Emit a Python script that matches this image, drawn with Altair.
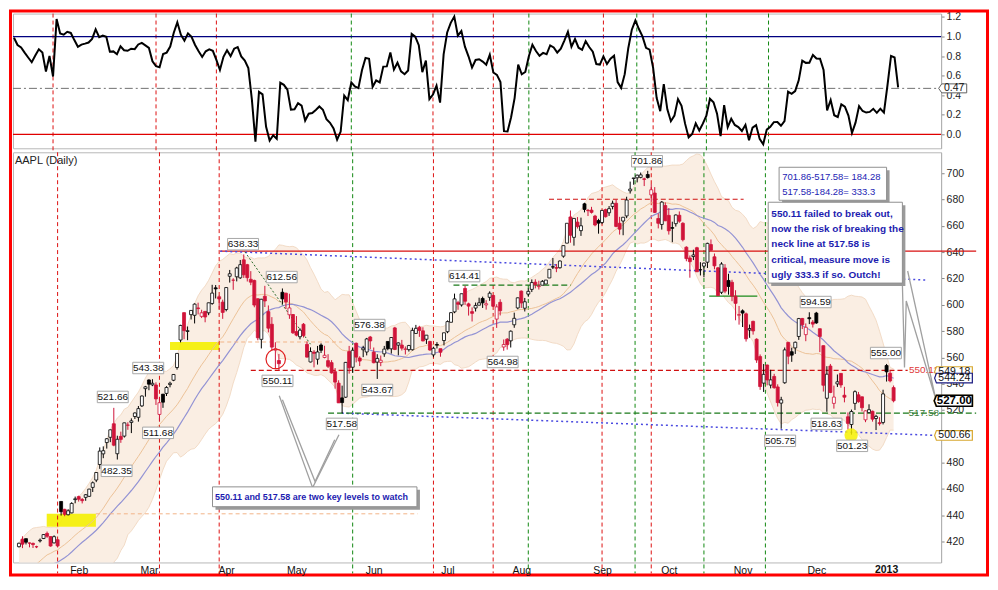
import altair as alt
import pandas as pd
import numpy as np

FONT = "Liberation Sans"
RED_C = "#d0143a"

# closes before the first visible bar (only feed the 20/30-day averages and bands)
history_close = [363.7, 360.3, 372.7, 369.8, 378.8, 384.4, 386.2, 389.5, 387.4, 385.6,
                 387.1, 390.1, 388.3, 385.3, 376.8, 375.5, 377.6, 378.8, 392.4, 392.9,
                 395.0, 399.8, 402.9, 399.0, 401.5, 401.4, 407.5, 409.7, 414.3]

open_ = [
    416.0, 421.7, 422.1, 418.8, 418.5, 415.9, 420.4, 422.2, 426.1, 423.7, 418.9, 421.3, 450.4, 444.4, 440.3, 441.7, 451.8,
    454.1, 451.9, 453.5, 454.3, 461.1, 466.7, 478.5, 486.6, 495.2, 499.2, 509.5, 486.7, 499.9, 500.1, 508.5, 510.5, 515.0, 514.4, 523.1, 536.2,
    542.8, 539.1, 539.0, 516.6, 532.0, 532.6, 539.3, 542.6, 552.3, 573.2, 594.0, 579.7, 592.5, 592.0, 597.6, 591.2, 595.0, 593.9, 601.0, 612.9, 606.1, 602.0,
    596.4, 621.7, 618.7, 621.3, 620.5, 634.2, 630.5, 619.4, 618.5, 604.6, 573.7, 606.5, 594.8, 585.2, 565.5, 557.6, 609.5, 608.8, 592.4, 592.6,
    579.6, 575.7, 585.2, 569.9, 556.5, 564.0, 558.6, 569.4, 559.9, 557.5, 556.0, 549.1, 540.4, 529.2, 529.7, 564.4, 552.5, 570.7, 559.5, 565.8, 564.1, 575.5,
    564.0, 556.4, 556.2, 562.7, 572.1, 566.5, 582.4, 569.3, 569.4, 566.1, 565.9, 565.8, 578.2, 582.9, 580.2, 573.8, 572.1, 561.9, 569.8, 566.6, 572.8,
    579.5, 586.7, 594.6, 601.6, 599.9, 612.4, 600.7, 594.8, 597.5, 599.7, 604.8, 599.9, 605.7, 607.1, 589.1, 601.9, 567.9, 573.8, 572.6, 584.8, 597.6,
    610.4, 597.4, 608.1, 611.7, 617.2, 613.8, 614.9, 615.8, 620.4, 628.9, 628.3, 628.2, 637.0, 646.9, 666.8, 651.3, 662.9, 656.4, 676.8, 671.8, 672.0, 667.5, 664.1,
    662.6, 672.4, 670.0, 674.8, 677.2, 662.0, 663.7, 667.6, 686.7, 696.0, 696.6, 696.9, 695.8, 699.1, 683.6, 685.0, 665.6, 661.1, 675.5,
    668.0, 658.7, 661.7, 668.1, 662.0, 643.8, 635.6, 636.7, 643.4, 626.6, 629.4, 632.4, 645.8, 636.5, 628.1, 609.5, 628.0, 618.5, 617.1, 606.5, 592.1,
    595.4, 593.1, 580.8, 587.4, 573.8, 560.6, 540.4, 554.2, 538.9, 545.5, 537.5, 525.2, 540.7, 571.4, 564.3, 567.2, 575.9, 589.6, 577.3, 590.2, 586.8,
    593.7, 581.8, 568.9, 528.9, 553.4, 525.0, 539.8, 547.8, 531.2, 514.8, 508.9, 525.0, 531.5, 530.0, 512.5, 518.0, 519.0, 513.5, 510.3, 510.5,
    553.8, 547.9, 537.0,
]
high = [
    419.0, 423.9, 422.2, 419.1, 419.1, 416.7, 422.2, 425.6, 427.5, 423.7, 424.6, 421.3, 450.4, 444.8, 444.5, 449.8, 454.1,
    454.8, 453.0, 456.0, 460.0, 465.6, 472.7, 491.5, 492.3, 498.6, 505.0, 521.6, 500.4, 503.5, 510.3, 510.6, 513.6, 518.1, 523.0, 531.0, 538.3,
    543.3, 543.4, 541.0, 529.2, 532.2, 538.1, 541.5, 547.2, 563.1, 584.8, 594.2, 583.5, 595.8, 601.1, 601.6, 596.2, 595.1, 601.6, 615.2, 615.0, 607.1, 603.9,
    613.2, 626.5, 620.2, 628.9, 634.1, 638.3, 631.1, 625.6, 619.1, 604.8, 604.5, 614.4, 599.5, 590.6, 571.5, 562.6, 612.4, 609.2, 608.4, 593.0,
    591.4, 582.1, 586.1, 572.1, 567.6, 565.5, 568.7, 570.7, 568.8, 562.4, 557.9, 551.9, 542.6, 538.5, 556.5, 568.7, 567.6, 571.3, 560.8, 568.8, 574.8, 576.3,
    567.5, 562.4, 561.4, 568.7, 572.1, 575.4, 583.2, 571.4, 573.3, 568.3, 569.5, 582.6, 584.7, 584.0, 582.9, 577.0, 572.6, 568.1, 571.6, 566.6, 578.7,
    588.1, 594.5, 608.5, 603.0, 608.4, 614.4, 601.6, 598.0, 601.7, 605.4, 606.2, 603.5, 610.2, 607.4, 600.4, 604.2, 573.6, 574.7, 580.5, 594.0, 605.5,
    610.9, 605.2, 612.4, 619.3, 619.4, 618.3, 618.8, 618.8, 627.0, 635.6, 631.0, 633.7, 645.1, 662.0, 671.7, 665.8, 666.7, 666.3, 677.6, 672.9, 674.5, 668.4, 665.4,
    671.9, 673.1, 675.1, 679.2, 680.0, 666.9, 666.7, 682.2, 693.7, 696.5, 699.0, 700.6, 696.7, 701.9, 691.8, 689.5, 669.5, 678.9, 677.9,
    673.5, 663.2, 668.7, 671.0, 662.8, 644.5, 637.5, 641.9, 644.1, 632.4, 632.1, 647.2, 649.7, 639.0, 628.8, 632.4, 630.9, 623.6, 619.0, 611.1, 599.1,
    596.5, 594.1, 585.0, 587.9, 574.5, 562.2, 554.9, 554.5, 550.5, 547.5, 539.5, 530.0, 567.5, 571.8, 567.4, 572.0, 590.0, 590.0, 585.8, 594.3, 588.4,
    594.6, 581.8, 569.0, 553.3, 555.0, 538.5, 547.0, 547.9, 537.6, 518.1, 520.3, 534.9, 533.7, 530.2, 519.7, 524.3, 519.5, 516.3, 514.5, 535.4,
    555.0, 549.7, 538.6,
]
low = [
    415.4, 414.9, 417.7, 415.5, 415.0, 414.9, 419.2, 421.8, 422.7, 416.0, 418.5, 415.8, 439.7, 439.2, 439.8, 441.4, 449.0,
    450.3, 448.9, 450.9, 453.8, 457.6, 465.1, 475.2, 483.3, 490.6, 495.5, 492.4, 482.3, 495.0, 499.0, 504.9, 502.4, 513.1, 511.1, 522.3, 530.1,
    535.0, 538.1, 523.8, 511.7, 521.6, 530.6, 537.2, 541.9, 550.7, 571.4, 573.8, 573.1, 588.8, 585.8, 592.7, 589.9, 586.7, 592.1, 600.0, 604.8, 596.6, 589.3,
    595.0, 616.9, 611.4, 617.8, 619.7, 620.4, 617.7, 614.9, 598.1, 573.0, 566.8, 598.3, 579.0, 564.9, 551.6, 550.1, 600.5, 596.7, 589.3, 577.8,
    576.0, 573.7, 575.1, 559.9, 556.2, 552.4, 554.5, 563.3, 559.3, 551.9, 547.6, 536.2, 525.4, 517.6, 529.2, 547.6, 548.3, 556.2, 553.4, 560.2, 561.5, 566.3,
    555.5, 543.6, 553.3, 560.4, 565.4, 562.9, 565.5, 561.6, 565.2, 562.2, 564.4, 565.2, 577.9, 575.6, 572.2, 570.2, 565.0, 560.1, 566.8, 560.5, 569.1,
    578.4, 586.7, 593.6, 596.2, 598.6, 599.9, 591.8, 587.3, 594.9, 599.6, 597.6, 596.3, 603.0, 598.3, 582.4, 591.9, 565.0, 565.9, 567.5, 582.5, 596.6,
    597.6, 594.9, 606.1, 609.7, 612.5, 611.6, 614.9, 615.8, 620.3, 627.2, 624.8, 627.5, 635.8, 646.8, 647.2, 645.0, 658.0, 652.4, 670.3, 667.5, 669.4, 659.7, 654.1,
    661.3, 666.4, 667.6, 672.6, 659.0, 653.4, 652.9, 665.9, 684.6, 691.3, 693.1, 696.2, 690.3, 696.0, 678.8, 669.8, 658.1, 657.2, 663.6,
    653.4, 647.6, 659.5, 662.4, 648.2, 633.1, 620.6, 634.0, 625.1, 622.3, 620.9, 628.0, 640.9, 627.0, 606.7, 608.1, 608.8, 607.7, 602.7, 588.2, 584.9,
    583.1, 572.0, 574.9, 577.3, 555.8, 535.3, 533.7, 538.7, 536.4, 536.2, 522.6, 505.75, 539.9, 554.8, 556.6, 562.6, 573.3, 581.5, 572.3, 585.3, 582.7,
    585.5, 564.0, 534.0, 518.6, 532.8, 521.0, 537.5, 536.9, 525.8, 505.1, 501.2, 520.0, 525.5, 518.9, 510.7, 517.9, 511.1, 504.7, 508.1, 509.0,
    541.6, 541.0, 525.8,
]
close = [
    418.6, 417.9, 419.4, 418.7, 417.6, 416.0, 420.9, 425.2, 423.9, 416.5, 423.6, 416.6, 442.6, 440.6, 443.3, 448.9, 452.4,
    452.1, 451.0, 455.5, 459.8, 464.6, 472.4, 488.7, 489.0, 498.1, 504.9, 493.2, 497.7, 497.6, 510.2, 508.4, 511.7, 517.7, 521.0, 530.6, 537.6,
    539.6, 540.3, 528.4, 525.5, 525.9, 537.1, 540.3, 547.0, 563.0, 584.3, 580.3, 580.3, 595.7, 600.5, 597.1, 593.9, 590.7, 601.5, 608.9, 612.1, 604.4, 594.2,
    613.1, 623.6, 618.7, 628.0, 630.5, 622.8, 620.6, 617.2, 599.8, 574.9, 604.2, 602.9, 582.2, 567.8, 566.6, 555.2, 604.5, 602.2, 597.6, 578.7,
    576.9, 580.7, 576.6, 560.2, 564.4, 563.1, 564.1, 565.4, 561.6, 553.2, 548.2, 541.2, 525.4, 525.6, 556.2, 552.0, 565.4, 560.2, 557.2, 567.1, 574.0, 572.5,
    555.9, 559.2, 557.8, 566.3, 566.6, 575.1, 566.0, 571.0, 567.0, 566.4, 569.0, 580.5, 582.1, 580.5, 572.5, 576.9, 565.6, 566.9, 569.3, 563.9, 578.7,
    587.2, 594.0, 604.5, 600.4, 608.4, 602.7, 599.0, 593.5, 599.5, 601.5, 601.5, 600.8, 608.8, 598.9, 598.4, 595.5, 569.8, 569.7, 579.9, 589.7, 605.3,
    601.4, 602.3, 610.2, 616.9, 615.3, 614.3, 617.8, 618.8, 627.0, 628.7, 627.8, 633.3, 645.0, 662.0, 652.9, 665.7, 659.5, 660.1, 672.5, 671.6, 670.3, 660.7, 662.1,
    671.8, 667.0, 673.1, 677.2, 659.6, 657.5, 666.6, 679.7, 688.0, 696.5, 698.6, 698.8, 695.4, 696.8, 687.5, 670.3, 662.0, 678.1, 663.9,
    656.3, 658.2, 668.3, 663.6, 649.5, 635.1, 632.8, 637.9, 625.1, 626.7, 631.7, 646.7, 641.5, 629.6, 606.9, 631.0, 610.4, 613.9, 606.6, 601.1, 592.5,
    593.7, 574.1, 581.9, 580.1, 558.0, 537.8, 547.1, 542.8, 542.9, 536.9, 525.6, 527.7, 565.7, 560.9, 561.7, 571.5, 589.5, 584.8, 582.9, 589.4, 585.3,
    586.2, 575.9, 538.8, 547.2, 533.3, 529.8, 541.4, 539.0, 529.7, 509.8, 518.8, 533.9, 526.3, 521.7, 519.3, 520.2, 513.0, 515.1, 509.6, 532.2,
    549.0, 542.1, 527.0,
]

month_ticks = [17, 37, 59, 79, 101, 122, 143, 166, 185, 206, 227, 247]
month_labels = ["Feb", "Mar", "Apr", "May", "Jun", "Jul", "Aug", "Sep", "Oct", "Nov", "Dec", "2013"]
price_ticks = [420, 440, 460, 480, 500, 520, 540, 560, 580, 600, 620, 640, 660, 680, 700]
pctb_ticks = [0.0, 0.2, 0.4, 0.6, 0.8, 1.0, 1.2]

red_vlines = [11, 40, 57, 118, 135, 166, 180]
green_vlines = [95, 145, 175.4, 195, 212.5]

peak_text = ["638.33", "612.56", "543.38", "521.66", "511.68", "482.35", "550.11", "517.58", "576.38",
             "543.67", "614.41", "564.98", "701.86", "594.59", "555.00", "518.63", "505.75", "501.23"]
peak_x = [63.8, 74.8, 36.8, 26.7, 39.6, 27.8, 73.6, 91.9, 99.8, 102.0, 126.8, 137.7, 178.8, 226.8, 246.8, 229.9, 216.7, 237.2]
peak_y = [646.1, 621.1, 551.9, 529.9, 502.6, 473.7, 542.1, 509.4, 584.6, 535.2, 621.8, 556.5, 709.2, 602.1, 563.3, 509.4, 496.5, 492.7]

assert len(open_) == len(high) == len(low) == len(close) == 250

# ---------------- data frames ----------------
n = len(close)
main = pd.DataFrame({"i": np.arange(n), "open": open_, "high": high, "low": low, "close": close})
prev = pd.Series([history_close[-1]] + close[:-1])
main["col"] = np.where(main["close"] >= prev, "#000000", RED_C)
main["fill"] = np.where(main["close"] > main["open"], "#ffffff", main["col"])
hist = pd.DataFrame({"i": np.arange(-len(history_close), 0), "close": history_close})
allc = pd.concat([hist, main[["i", "close"]]], ignore_index=True)

XS = alt.Scale(domain=[-0.28, 261.1], nice=False, zero=False)
YS = alt.Scale(domain=[404, 716], nice=False, zero=False)
PS = alt.Scale(domain=[-0.143, 1.235], nice=False, zero=False)

ticks_js = "[" + ",".join(str(t) for t in month_ticks) + "]"
labs_js = "[" + ",".join("'" + (l if l != "2013" else "") + "'" for l in month_labels) + "]"
XAX = alt.Axis(values=month_ticks, labelExpr=f"{labs_js}[indexof({ticks_js}, datum.value)]",
               ticks=False, domain=False, grid=False, labelPadding=3, labelFont=FONT,
               labelFontSize=10.5, labelColor="#111", labelOverlap=False, labelFlush=False)
YAX = alt.Axis(orient="right", values=price_ticks, grid=False, domain=True, domainColor="#b0b0b0",
               tickColor="#888", tickSize=3, labelPadding=2, labelFont=FONT, labelFontSize=10.5,
               labelColor="#222", labelOverlap=False, labelFlush=False)
PAX = alt.Axis(orient="right", values=pctb_ticks, format=".1f", grid=False, domain=True,
               domainColor="#b0b0b0", tickColor="#888", tickSize=3, labelPadding=2, labelFont=FONT,
               labelFontSize=10.5, labelColor="#222", labelOverlap=False, labelFlush=False)


def XB(f):
    return alt.X(f, type="quantitative", scale=XS, axis=XAX, title=None)


def YB(f):
    return alt.Y(f, type="quantitative", scale=YS, axis=YAX, title=None)


def XT(f):
    return alt.X(f, type="quantitative", scale=XS, axis=None, title=None)


def YT(f):
    return alt.Y(f, type="quantitative", scale=PS, axis=PAX, title=None)


ind = (alt.Chart(allc)
       .transform_window(window=[{"op": "mean", "field": "close", "as": "sma20"},
                                 {"op": "stdevp", "field": "close", "as": "sd20"}],
                         frame=[-19, 0], sort=[{"field": "i"}])
       .transform_window(window=[{"op": "mean", "field": "close", "as": "sma30"}],
                         frame=[-29, 0], sort=[{"field": "i"}])
       .transform_calculate(upper="datum.sma20 + 2*datum.sd20",
                            lower="datum.sma20 - 2*datum.sd20",
                            pctb="(datum.close - (datum.sma20 - 2*datum.sd20)) / (4*datum.sd20)")
       .transform_filter("datum.i >= 0"))

# ---------------- bottom (price) panel ----------------
band = ind.mark_area(color="#faeee3", opacity=1, clip=True).encode(x=XB("i"), y=YB("upper"), y2=alt.Y2("lower"))
band_up = ind.mark_line(color="#f0d8c2", strokeWidth=0.9, clip=True).encode(x=XB("i"), y=YB("upper"))
band_lo = ind.mark_line(color="#f0d8c2", strokeWidth=0.9, clip=True).encode(x=XB("i"), y=YB("lower"))
mid = ind.mark_line(color="#ecc298", strokeWidth=1, clip=True).encode(x=XB("i"), y=YB("sma20"))
sma30 = ind.mark_line(color="#9393d4", strokeWidth=1.2, clip=True).encode(x=XB("i"), y=YB("sma30"))

yellow = pd.DataFrame({"x": [43, 7.9], "x2": [57, 21.9], "y": [565.6, 431.2], "y2": [571.7, 441.0]})
yel = alt.Chart(yellow).mark_rect(color="#f4f000", opacity=0.9).encode(
    x=XB("x"), x2=alt.X2("x2"), y=YB("y"), y2=alt.Y2("y2"))

vdf = pd.DataFrame({"x": red_vlines + green_vlines,
                    "c": ["#dd1111"] * len(red_vlines) + ["#118811"] * len(green_vlines)})
vb = alt.Chart(vdf).mark_rule(strokeDash=[4, 3], strokeWidth=1).encode(
    x=XB("x"), y=alt.value(0), y2=alt.value(422), color=alt.Color("c:N", scale=None))


def segs(rows, **kw):
    d = pd.DataFrame(rows, columns=["x", "y", "x2", "y2"])
    return alt.Chart(d).mark_rule(**kw).encode(x=XB("x"), y=YB("y"), x2=alt.X2("x2"), y2=alt.Y2("y2"))


l_red = segs([(57.3, 640.8, 272.5, 640.8)], color="#d81010", strokeWidth=1.2)
l_blue = segs([(57.3, 640.8, 258.6, 618.8), (91.9, 517.58, 261.1, 500.66)], color="#4a4ae0", strokeWidth=1.5, strokeDash=[2, 3])
l_green = segs([(88, 517.58, 272.5, 517.58), (123.7, 615.0, 157.1, 615.0)], color="#1a7a1a", strokeWidth=1.2, strokeDash=[6, 3])
l_redd = segs([(66, 550.11, 253, 550.11), (150.9, 680.3, 206.3, 680.3)], color="#d01010", strokeWidth=1.1, strokeDash=[5, 3])
l_gs = segs([(196.5, 606.6, 210.2, 606.6)], color="#1a8a1a", strokeWidth=1.4)
l_or = segs([(57.3, 571.7, 92, 571.7), (21.9, 441.0, 113.5, 441.0)], color="#f2b488", strokeWidth=1, strokeDash=[4, 3])
l_dg = segs([(64.3, 640.3, 83, 570.0)], color="#2a6a2a", strokeWidth=1, strokeDash=[2, 2])

cdl = alt.Chart(main)
wick = cdl.mark_rule(strokeWidth=1).encode(x=XB("i"), y=YB("low"), y2=alt.Y2("high"),
                                           color=alt.Color("col:N", scale=None))
body = cdl.mark_bar(size=3.0, strokeWidth=0.8).encode(
    x=XB("i"), y=YB("open"), y2=alt.Y2("close"),
    fill=alt.Fill("fill:N", scale=None), stroke=alt.Stroke("col:N", scale=None))

circ_r = alt.Chart(pd.DataFrame({"x": [73.1], "y": [558.8]})).mark_point(
    shape="circle", size=380, filled=False, color="#e02020", strokeWidth=1.2, opacity=1).encode(x=XB("x"), y=YB("y"))
circ_y = alt.Chart(pd.DataFrame({"x": [236.9], "y": [501.0]})).mark_point(
    shape="circle", size=180, filled=True, color="#f6f000", opacity=0.85).encode(x=XB("x"), y=YB("y"))

BOX = "M-1,-0.37L1,-0.37L1,0.37L-1,0.37Z"
pk = pd.DataFrame({"t": peak_text, "x": peak_x, "y": peak_y})
pk_box = alt.Chart(pk).mark_point(shape=BOX, size=961, filled=True, fill="#ffffff", stroke="#a8a8a8",
                                  strokeWidth=1, opacity=1).encode(x=XB("x"), y=YB("y"))
pk_txt = alt.Chart(pk).mark_text(font=FONT, fontSize=10, color="#111").encode(x=XB("x"), y=YB("y"), text="t:N")

boxes = pd.DataFrame({"x": [216.4, 213.3, 55.1], "x2": [247.0, 251.5, 113.3],
                      "y": [679.5, 616.5, 446.4], "y2": [704.6, 678.0, 461.5]})
bx_sh = alt.Chart(boxes).mark_rect(color="#9a9a9a", xOffset=3, x2Offset=3, yOffset=3, y2Offset=3).encode(
    x=XB("x"), x2=alt.X2("x2"), y=YB("y"), y2=alt.Y2("y2"))
bx = alt.Chart(boxes).mark_rect(fill="#ffffff", stroke="#909090", strokeWidth=1).encode(
    x=XB("x"), x2=alt.X2("x2"), y=YB("y"), y2=alt.Y2("y2"))

t1 = pd.DataFrame({"t": ["701.86-517.58= 184.28", "517.58-184.28= 333.3"], "x": [217.3, 217.3], "y": [697.0, 685.6]})
t2 = pd.DataFrame({"t": ["550.11 failed to break out,", "now the risk of breaking the", "neck line at 517.58 is",
                         "critical, measure move is", "ugly 333.3 if so. Outch!"],
                   "x": [214.2] * 5, "y": [668.9, 657.5, 646.1, 634.0, 622.6]})
t3 = pd.DataFrame({"t": ["550.11 and 517.58 are two key levels to watch"], "x": [55.8], "y": [453.6]})
tx1 = alt.Chart(t1).mark_text(align="left", font=FONT, fontSize=9.5, color="#2424b4").encode(x=XB("x"), y=YB("y"), text="t:N")
tx2 = alt.Chart(t2).mark_text(align="left", font=FONT, fontSize=10, fontWeight="bold", color="#1c1cb0").encode(x=XB("x"), y=YB("y"), text="t:N")
tx3 = alt.Chart(t3).mark_text(align="left", font=FONT, fontSize=9, fontWeight="bold", color="#1c1cb0").encode(x=XB("x"), y=YB("y"), text="t:N")

ptr = pd.DataFrame({
    "g": ["a"] * 3 + ["b"] * 3 + ["c"] * 5,
    "o": [0, 1, 2, 0, 1, 2, 0, 1, 2, 3, 4],
    "x": [74.1, 83.6, 91.1, 75.0, 84.3, 89.9, 251.5, 252.1, 252.6, 261.0, 253.0],
    "y": [530.8, 460.9, 501.2, 527.7, 465.5, 497.4, 615.8, 552.3, 602.9, 528.3, 625.7]})
ptrs = alt.Chart(ptr).mark_line(color="#a0a0a0", strokeWidth=1.3).encode(
    x=XB("x"), y=YB("y"), detail="g:N", order="o:Q")

# right-hand value tags
RBOX = "M-1.1,0L-1,-0.27L1,-0.27L1,0.27L-1,0.27Z"
RBOXB = "M-1.12,0L-1,-0.31L1,-0.31L1,0.31L-1,0.31Z"
rv = pd.DataFrame({"t": ["549.18", "544.24", "500.66"], "x": [266.3] * 3, "y": [549.18, 544.24, 500.66],
                   "s": ["#d8a830", "#1a1a80", "#d8a830"]})
rv_box = alt.Chart(rv).mark_point(shape=RBOX, size=1296, filled=True, fill="#ffffff", strokeWidth=1.2, opacity=1).encode(
    x=XB("x"), y=YB("y"), stroke=alt.Stroke("s:N", scale=None))
rv_txt = alt.Chart(rv).mark_text(font=FONT, fontSize=10.5, color="#111").encode(x=XB("x"), y=YB("y"), text="t:N")
last = pd.DataFrame({"t": ["527.00"], "x": [266.3], "y": [527.0]})
last_box2 = alt.Chart(last).mark_point(shape=RBOXB, size=1444, filled=True, fill="#e8c060", opacity=1).encode(x=XB("x"), y=YB("y"))
last_box = alt.Chart(last).mark_point(shape=RBOXB, size=1296, filled=True, fill="#ffffff", stroke="#000000",
                                      strokeWidth=1.6, opacity=1).encode(x=XB("x"), y=YB("y"))
last_txt = alt.Chart(last).mark_text(font=FONT, fontSize=11.5, fontWeight="bold", color="#000").encode(x=XB("x"), y=YB("y"), text="t:N")
lvl = pd.DataFrame({"t": ["550.11", "517.58"], "x": [257.6, 257.6], "y": [550.11, 517.58], "c": ["#e03a3a", "#3a7a3a"]})
lvl_txt = alt.Chart(lvl).mark_text(font=FONT, fontSize=10).encode(x=XB("x"), y=YB("y"), text="t:N",
                                                                   color=alt.Color("c:N", scale=None))

title_txt = alt.Chart(pd.DataFrame({"t": ["AAPL (Daily)"]})).mark_text(
    align="left", baseline="middle", font=FONT, fontSize=11, color="#222").encode(
    x=alt.value(2), y=alt.value(9), text="t:N")
yr = alt.Chart(pd.DataFrame({"t": ["2013"], "x": [247]})).mark_text(
    baseline="top", font=FONT, fontSize=10.5, fontWeight="bold", color="#111").encode(
    x=XB("x"), y=alt.value(414), text="t:N")

bottom = alt.layer(band, band_up, band_lo, yel, vb, mid, sma30,
                   l_or, l_red, l_blue, l_green, l_redd, l_gs, l_dg,
                   wick, body, circ_y, circ_r, pk_box, pk_txt, ptrs, bx_sh, bx, tx1, tx2, tx3,
                   lvl_txt, rv_box, rv_txt, last_box2, last_box, last_txt, title_txt, yr
                   ).properties(width=930, height=411)

# ---------------- top (%B) panel ----------------
hl = pd.DataFrame({"v": [1.0, 0.0], "c": ["#000080", "#e00000"]})
t_hl = alt.Chart(hl).mark_rule(strokeWidth=1.3).encode(
    y=YT("v"), x=alt.value(0), x2=alt.value(930), color=alt.Color("c:N", scale=None))
t_cur = alt.Chart(pd.DataFrame({"v": [0.47]})).mark_rule(color="#707070", strokeWidth=1, strokeDash=[8, 3, 2, 3]).encode(
    y=YT("v"), x=alt.value(0), x2=alt.value(929))
t_vl = alt.Chart(vdf).mark_rule(strokeDash=[4, 3], strokeWidth=1).encode(
    x=XT("x"), y=alt.value(0), y2=alt.value(139), color=alt.Color("c:N", scale=None))
t_line = ind.mark_line(color="#000000", strokeWidth=2, clip=True).encode(x=XT("i"), y=YT("pctb"))
TBOX = "M-1.25,0L-1,-0.36L1,-0.36L1,0.36L-1,0.36Z"
cur = pd.DataFrame({"t": ["0.47"], "x": [264.8], "v": [0.47]})
t_box = alt.Chart(cur).mark_point(shape=TBOX, size=625, filled=True, fill="#ffffff", stroke="#606060",
                                  strokeWidth=1, opacity=1).encode(x=XT("x"), y=YT("v"))
t_txt = alt.Chart(cur).mark_text(font=FONT, fontSize=10.5, color="#111").encode(x=XT("x"), y=YT("v"), text="t:N")
frame = alt.Chart(pd.DataFrame({"a": [0]})).mark_rect(fill="transparent", stroke="#ff0000", strokeWidth=3).encode(
    x=alt.value(-2.5), x2=alt.value(976.5), y=alt.value(-2.5), y2=alt.value(562.5))

top = alt.layer(t_vl, t_hl, t_cur, t_line, t_box, t_txt, frame).properties(width=930, height=135)

chart = (alt.vconcat(top, bottom, spacing=4, bounds="flush")
         .properties(padding=0)
         .configure_view(stroke="#b8b8b8", strokeWidth=1))

chart.save("out.html", embed_options={"renderer": "svg", "actions": False})
